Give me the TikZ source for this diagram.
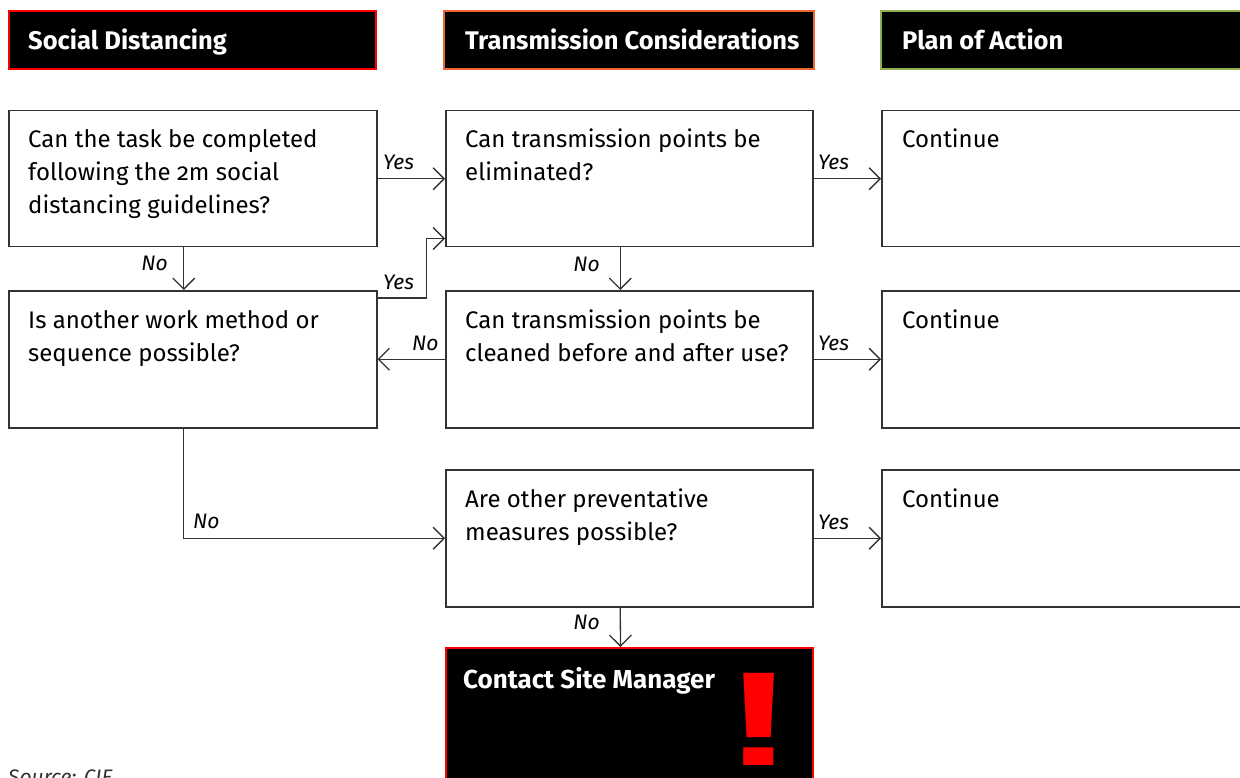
\documentclass[tikz,border=0pt]{standalone}
\usepackage{fontspec}
\setmainfont{Fira Sans}[Numbers=OldStyle]
\newfontfamily\exfont{Liberation Sans}
\usetikzlibrary{arrows.meta}
\definecolor{linegray}{HTML}{333333}
\definecolor{hred}{HTML}{FF0000}
\definecolor{horange}{HTML}{F26532}
\definecolor{hgreen}{HTML}{8DB04E}
\tikzset{
  box/.style={draw=linegray, line width=1.5pt, fill=white, anchor=north west,
    minimum width=368pt, minimum height=136pt, inner sep=0pt},
  headbox/.style={draw=#1, fill=black, line width=2pt, anchor=north west,
    minimum width=367pt, minimum height=58pt, inner sep=0pt},
  headtxt/.style={anchor=base west, inner sep=0pt, text=white,
    font=\fontsize{25.5}{30}\selectfont\bfseries},
  txt/.style={anchor=base west, align=left, inner sep=0pt,
    font=\fontsize{24}{33}\selectfont, text=black},
  lbl/.style={anchor=base west, inner sep=0pt, font=\fontsize{21}{25}\selectfont\itshape, text=black},
  arr/.style={draw=linegray, line width=1.3pt,
    -{Straight Barb[length=11pt,width=22pt,line width=1.3pt]}}
}
\begin{document}
\begin{tikzpicture}[x=1pt,y=-1pt]
\useasboundingbox (0,0) rectangle (1240,778);
\clip (0,0) rectangle (1240,778);
% headers
\node[headbox=hred] (h1) at (8,10) {};
\node[headbox=horange, minimum width=370pt] (h2) at (443,10) {};
\node[headbox=hgreen, minimum width=380pt] (h3) at (880,10) {};
\node[headtxt] (h1t) at ([shift={(20,40)}]h1.north west) {Social Distancing};
\node[headtxt] (h2t) at ([shift={(22,40)}]h2.north west) {Transmission Considerations};
\node[headtxt] (h3t) at ([shift={(22,40)}]h3.north west) {Plan of Action};
% boxes
\node[box] (b1) at (8,110) {};
\node[box, minimum width=367pt] (b2) at (445,110) {};
\node[box] (b3) at (881,110) {};
\node[box, minimum height=137pt] (b4) at (8,290) {};
\node[box, minimum width=367pt, minimum height=137pt] (b5) at (445,290) {};
\node[box, minimum height=137pt] (b6) at (881,290) {};
\node[box, minimum width=367pt, minimum height=137pt] (b8) at (445,469) {};
\node[box, minimum height=137pt] (b9) at (881,469) {};
\node[headbox=hred, minimum width=367pt, minimum height=150pt] (b10) at (445,647) {};
% texts (base anchor = baseline of last line)
\node[txt] (t1) at ([shift={(20,104)}]b1.north west) {Can the task be completed\\following the 2m social\\distancing guidelines?};
\node[txt] (t2) at ([shift={(20,71)}]b2.north west) {Can transmission points be\\eliminated?};
\node[txt] (t3) at ([shift={(21,38)}]b3.north west) {Continue};
\node[txt] (t4) at ([shift={(20,71)}]b4.north west) {Is another work method or\\sequence possible?};
\node[txt] (t5) at ([shift={(20,71)}]b5.north west) {Can transmission points be\\cleaned before and after use?};
\node[txt] (t6) at ([shift={(21,38)}]b6.north west) {Continue};
\node[txt] (t8) at ([shift={(20,71)}]b8.north west) {Are other preventative\\measures possible?};
\node[txt] (t9) at ([shift={(21,38)}]b9.north west) {Continue};
\node[headtxt, font=\fontsize{26}{30}\selectfont\bfseries] (t10) at ([shift={(18,41)}]b10.north west) {Contact Site Manager};
\node[anchor=base, inner sep=0pt, text=hred, xscale=1.6, font=\fontsize{134}{134}\exfont\bfseries] (ex) at (759,765) {!};
% connectors
\draw[arr] (b1.east) -- (b2.west);
\draw[arr] (b2.east) -- (b3.west);
\draw[arr] ([xshift=-9pt]b1.south) -- ([xshift=-9pt]b4.north);
\draw[arr] ([xshift=-9pt]b2.south) -- ([xshift=-9pt]b5.north);
\draw[arr] ([yshift=-8pt]b4.north east) -- ++(49,0) |- ([yshift=9pt]b2.south west);
\draw[arr] (b5.west) -- (b4.east);
\draw[arr] (b5.east) -- (b6.west);
\draw[arr] ([xshift=-9pt]b4.south) |- (b8.west);
\draw[arr] (b8.east) -- (b9.west);
\draw[arr] ([xshift=-9pt]b8.south) -- ([xshift=-9pt]b10.north);
% labels
\node[lbl] (l1) at (383,170) {Yes};
\node[lbl] (l2) at (818,170) {Yes};
\node[lbl, anchor=base east] (l3) at (168,270) {No};
\node[lbl, anchor=base east] (l4) at (600,272) {No};
\node[lbl] (l5) at (383,290) {Yes};
\node[lbl] (l6) at (412,350) {No};
\node[lbl] (l7) at (818,350) {Yes};
\node[lbl] (l8) at (193,528) {No};
\node[lbl] (l9) at (818,529) {Yes};
\node[lbl, anchor=base east] (l10) at (600,629) {No};
\node[anchor=base west, inner sep=0pt, font=\fontsize{21}{25}\selectfont\itshape, text=linegray] (src) at (8,784) {Source: CIE};
\end{tikzpicture}
\end{document}
